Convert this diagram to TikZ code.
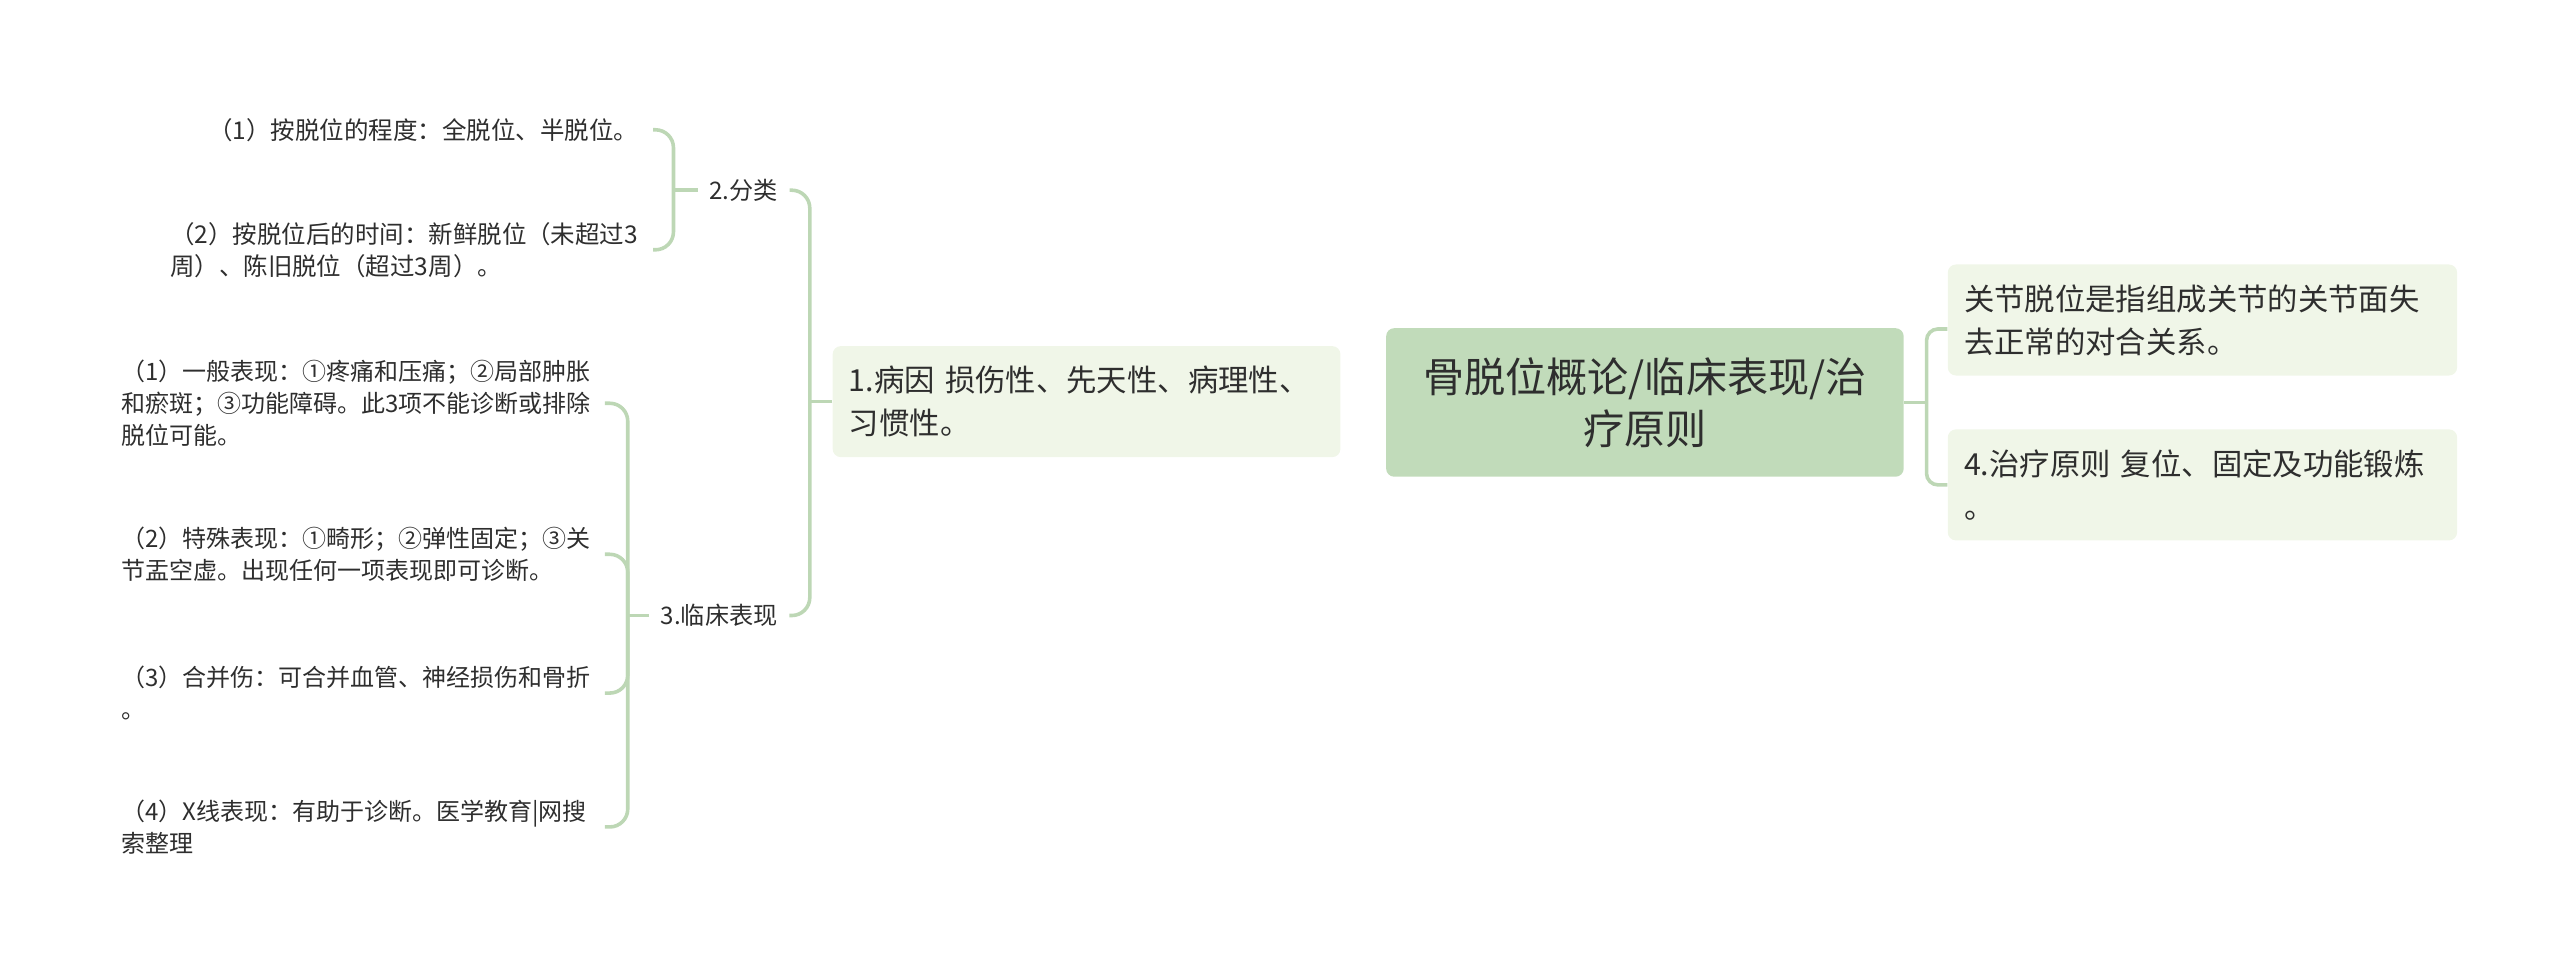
\documentclass[tikz,border=0pt]{standalone}
\usepackage{fontspec}
\setmainfont{Noto Sans CJK SC}
\usetikzlibrary{calc}
\definecolor{linec}{HTML}{BDD7B5}
\definecolor{mainfill}{HTML}{C1DBBA}
\definecolor{subfill}{HTML}{F0F6E8}
\definecolor{txt}{HTML}{2E2E2E}
\newcommand\myfs[2]{\fontsize{#1}{#2}\selectfont}
\begin{document}
\begin{tikzpicture}[x=1pt,y=-1pt,
  conn/.style={draw=linec,line width=2.2pt},
  mainbox/.style={fill=mainfill,rounded corners=5pt,minimum width=317pt,minimum height=91pt,align=center,text=txt,font=\myfs{25.2}{32}},
  subbox/.style={fill=subfill,rounded corners=5pt,minimum width=312pt,minimum height=68pt,text width=292pt,inner xsep=10pt,align=left,text=txt,font=\myfs{18.6}{26.5}},
  lbl/.style={inner xsep=7pt,inner ysep=3pt,text=txt,font=\myfs{14.8}{19.5}},
  itemA/.style={anchor=east,inner xsep=9pt,align=left,text=txt,font=\myfs{15}{19.5}},
  itemB/.style={anchor=east,inner xsep=6pt,text width=290pt,align=left,text=txt,font=\myfs{14.7}{19.5}}]
\useasboundingbox (0,0) rectangle (1568,596);

\node[mainbox] (c) at (1007.5,246.5) {骨脱位概论/临床表现/治\\疗原则};
\node[subbox,minimum width=311pt,text width=291pt] (n1) at (665.5,246) {1.病因 损伤性、先天性、病理性、\\习惯性。};
\node[subbox] (r1) at (1349,196) {关节脱位是指组成关节的关节面失\\去正常的对合关系。};
\node[subbox] (r2) at (1349,297) {4.治疗原则 复位、固定及功能锻炼\\。};

\node[lbl] (l2) at (455.5,116.5) {2.分类};
\node[lbl] (l3) at (440.5,377) {3.临床表现};

\node[itemA] (a1) at (400,79.5) {（1）按脱位的程度：全脱位、半脱位。};
\node[itemA] (a2) at (400,153) {（2）按脱位后的时间：新鲜脱位（未超过3\\周）、陈旧脱位（超过3周）。};

\node[itemB] (b1) at (370.5,247) {（1）一般表现：①疼痛和压痛；②局部肿胀\\和瘀斑；③功能障碍。此3项不能诊断或排除\\脱位可能。};
\node[itemB] (b2) at (370.5,339.5) {（2）特殊表现：①畸形；②弹性固定；③关\\节盂空虚。出现任何一项表现即可诊断。};
\node[itemB] (b3) at (370.5,424.5) {（3）合并伤：可合并血管、神经损伤和骨折\\。};
\node[itemB] (b4) at (370.5,506.5) {（4）X线表现：有助于诊断。医学教育|网搜\\索整理};

\coordinate (jr) at (1180,246.5);
\coordinate (r1a) at ([yshift=-5.5pt]r1.west);
\coordinate (jl) at (496,246);
\coordinate (ja) at (412.5,116.5);
\coordinate (jb) at (384.5,377);

\draw[conn] (c.east) -- (jr);
\draw[conn,rounded corners=7pt] (r1a) -| (jr) |- (r2.west);
\draw[conn] (n1.west) -- (jl);
\draw[conn,rounded corners=11pt] (l2.east) -| (jl) |- (l3.east);
\draw[conn] (l2.west) -- (ja);
\draw[conn,rounded corners=11pt] (a1.east) -| (ja) |- (a2.east);
\draw[conn] (l3.west) -- (jb);
\draw[conn,rounded corners=11pt] (b1.east) -| (jb) |- (b4.east);
\draw[conn,rounded corners=11pt] (b2.east) -| (jb);
\draw[conn,rounded corners=11pt] (b3.east) -| (jb);
\end{tikzpicture}
\end{document}
